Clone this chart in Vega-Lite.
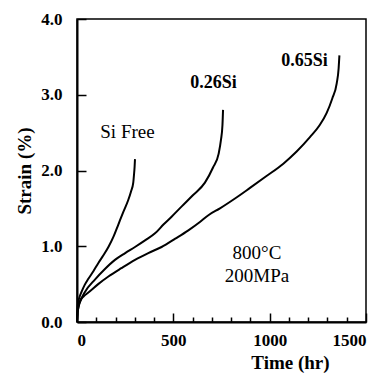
{
  "$schema": "https://vega.github.io/schema/vega-lite/v6.json",
  "width": 289,
  "height": 303,
  "autosize": "none",
  "padding": {"left": 77, "top": 19, "right": 21, "bottom": 60},
  "background": "white",
  "config": {
    "view": {"stroke": "black", "strokeWidth": 1.5},
    "font": "Liberation Serif",
    "axis": {
      "domainColor": "black", "domainWidth": 2,
      "tickColor": "black", "tickWidth": 1.5,
      "grid": false,
      "labelFont": "Liberation Serif", "labelFontWeight": "bold", "labelFontSize": 17, "labelColor": "black",
      "titleFont": "Liberation Serif", "titleFontWeight": "bold", "titleFontSize": 19, "titleColor": "black"
    }
  },
  "datasets": {
    "curves": [
      {"series": "Si Free", "t": 0, "s": 0}, {"series": "Si Free", "t": 2, "s": 0.14}, {"series": "Si Free", "t": 5, "s": 0.24},
      {"series": "Si Free", "t": 12, "s": 0.32}, {"series": "Si Free", "t": 24, "s": 0.40}, {"series": "Si Free", "t": 40, "s": 0.49},
      {"series": "Si Free", "t": 59, "s": 0.57}, {"series": "Si Free", "t": 85, "s": 0.67}, {"series": "Si Free", "t": 111, "s": 0.78},
      {"series": "Si Free", "t": 137, "s": 0.88}, {"series": "Si Free", "t": 163, "s": 0.99}, {"series": "Si Free", "t": 190, "s": 1.13},
      {"series": "Si Free", "t": 215, "s": 1.29}, {"series": "Si Free", "t": 240, "s": 1.45}, {"series": "Si Free", "t": 266, "s": 1.61},
      {"series": "Si Free", "t": 280, "s": 1.72}, {"series": "Si Free", "t": 292, "s": 1.84}, {"series": "Si Free", "t": 296, "s": 1.95},
      {"series": "Si Free", "t": 299, "s": 2.05}, {"series": "Si Free", "t": 301, "s": 2.15},
      {"series": "0.26Si", "t": 0, "s": 0}, {"series": "0.26Si", "t": 3, "s": 0.12}, {"series": "0.26Si", "t": 8, "s": 0.20},
      {"series": "0.26Si", "t": 20, "s": 0.29}, {"series": "0.26Si", "t": 42, "s": 0.40}, {"series": "0.26Si", "t": 93, "s": 0.56},
      {"series": "0.26Si", "t": 145, "s": 0.70}, {"series": "0.26Si", "t": 197, "s": 0.82}, {"series": "0.26Si", "t": 250, "s": 0.91},
      {"series": "0.26Si", "t": 301, "s": 0.99}, {"series": "0.26Si", "t": 355, "s": 1.08}, {"series": "0.26Si", "t": 405, "s": 1.17},
      {"series": "0.26Si", "t": 450, "s": 1.29}, {"series": "0.26Si", "t": 491, "s": 1.39}, {"series": "0.26Si", "t": 545, "s": 1.53},
      {"series": "0.26Si", "t": 600, "s": 1.67}, {"series": "0.26Si", "t": 664, "s": 1.84}, {"series": "0.26Si", "t": 706, "s": 2.04},
      {"series": "0.26Si", "t": 735, "s": 2.22}, {"series": "0.26Si", "t": 747, "s": 2.40}, {"series": "0.26Si", "t": 755, "s": 2.60},
      {"series": "0.26Si", "t": 758, "s": 2.80},
      {"series": "0.65Si", "t": 0, "s": 0}, {"series": "0.65Si", "t": 3, "s": 0.12}, {"series": "0.65Si", "t": 8, "s": 0.20},
      {"series": "0.65Si", "t": 16, "s": 0.28}, {"series": "0.65Si", "t": 35, "s": 0.34}, {"series": "0.65Si", "t": 59, "s": 0.39},
      {"series": "0.65Si", "t": 110, "s": 0.50}, {"series": "0.65Si", "t": 163, "s": 0.60}, {"series": "0.65Si", "t": 230, "s": 0.71},
      {"series": "0.65Si", "t": 301, "s": 0.82}, {"series": "0.65Si", "t": 370, "s": 0.91}, {"series": "0.65Si", "t": 439, "s": 0.99},
      {"series": "0.65Si", "t": 510, "s": 1.10}, {"series": "0.65Si", "t": 578, "s": 1.21}, {"series": "0.65Si", "t": 638, "s": 1.32},
      {"series": "0.65Si", "t": 682, "s": 1.41}, {"series": "0.65Si", "t": 742, "s": 1.50}, {"series": "0.65Si", "t": 820, "s": 1.63},
      {"series": "0.65Si", "t": 898, "s": 1.77}, {"series": "0.65Si", "t": 980, "s": 1.92}, {"series": "0.65Si", "t": 1071, "s": 2.09},
      {"series": "0.65Si", "t": 1140, "s": 2.25}, {"series": "0.65Si", "t": 1209, "s": 2.44}, {"series": "0.65Si", "t": 1260, "s": 2.60},
      {"series": "0.65Si", "t": 1296, "s": 2.76}, {"series": "0.65Si", "t": 1325, "s": 2.95}, {"series": "0.65Si", "t": 1348, "s": 3.15},
      {"series": "0.65Si", "t": 1358, "s": 3.35}, {"series": "0.65Si", "t": 1362, "s": 3.52}
    ],
    "boldLabels": [
      {"text": "0.26Si", "t": 708, "s": 3.15},
      {"text": "0.65Si", "t": 1181, "s": 3.45}
    ],
    "plainLabels": [
      {"text": "Si Free", "t": 262, "s": 2.51, "align": "center"},
      {"text": "800°C", "t": 934, "s": 0.91, "align": "left"},
      {"text": "200MPa", "t": 934, "s": 0.61, "align": "left"}
    ]
  },
  "layer": [
    {
      "data": {"name": "curves"},
      "mark": {"type": "line", "strokeWidth": 2, "color": "black", "interpolate": "monotone"},
      "encoding": {
        "x": {"field": "t", "type": "quantitative",
              "scale": {"domain": [0, 1500], "nice": false},
              "axis": {"values": [0, 500, 1000, 1500], "format": "d", "tickSize": -9, "labelPadding": 19, "title": "Time (hr)", "titleX": 213, "titlePadding": 5}},
        "y": {"field": "s", "type": "quantitative",
              "scale": {"domain": [0, 4], "nice": false},
              "axis": {"values": [0, 1, 2, 3, 4], "format": ".1f", "tickSize": -9, "labelPadding": 24, "title": "Strain (%)", "titlePadding": 6}},
        "detail": {"field": "series", "type": "nominal"}
      }
    },
    {
      "data": {"name": "boldLabels"},
      "mark": {"type": "text", "font": "Liberation Serif", "fontSize": 18, "fontWeight": "bold", "color": "black", "baseline": "middle", "align": "center"},
      "encoding": {
        "x": {"field": "t", "type": "quantitative",
              "axis": {"orient": "bottom", "values": [100, 200, 300, 400, 600, 700, 800, 900, 1100, 1200, 1300, 1400], "tickSize": -5, "labels": false, "domain": false, "title": null}},
        "y": {"field": "s", "type": "quantitative"},
        "text": {"field": "text"}
      }
    },
    {
      "data": {"name": "plainLabels"},
      "mark": {"type": "text", "font": "Liberation Serif", "fontSize": 19, "fontWeight": "normal", "color": "black", "baseline": "middle"},
      "encoding": {
        "x": {"field": "t", "type": "quantitative", "axis": null},
        "y": {"field": "s", "type": "quantitative"},
        "text": {"field": "text"},
        "align": {"field": "align", "type": "nominal", "scale": null}
      }
    }
  ],
  "resolve": {"axis": {"x": "independent"}}
}
